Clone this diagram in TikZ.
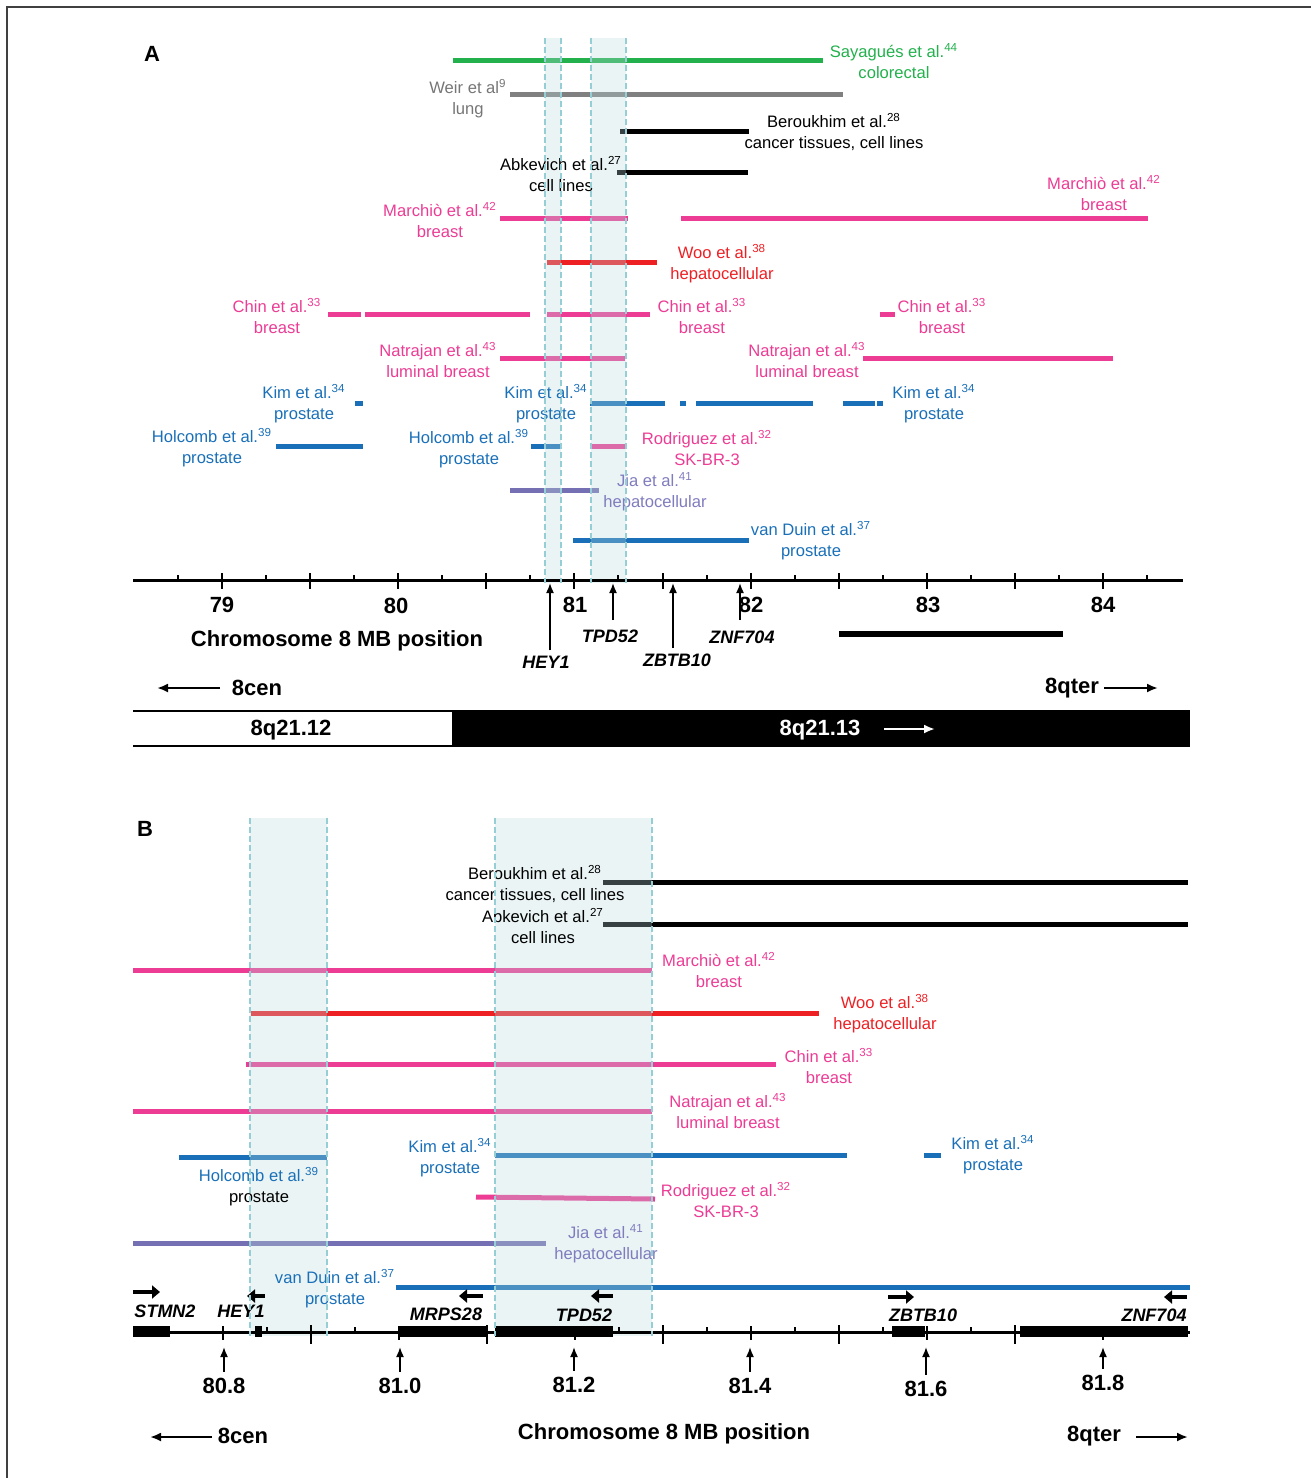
\documentclass[tikz,border=0pt]{standalone}
\usepackage{fontspec}
\setmainfont{Liberation Sans}
\usetikzlibrary{arrows.meta}
\definecolor{cgreen}{RGB}{34,177,76}
\definecolor{cgrey}{RGB}{128,128,128}
\definecolor{cgreytxt}{RGB}{118,118,118}
\definecolor{cpink}{RGB}{236,60,148}
\definecolor{cred}{RGB}{237,32,36}
\definecolor{cpurple}{RGB}{117,112,180}
\definecolor{cpurpletxt}{RGB}{128,124,190}
\definecolor{cblue}{RGB}{26,112,184}
\definecolor{cband}{RGB}{185,218,222}
\definecolor{cbandline}{RGB}{150,206,214}
\newcommand\rf[1]{\textsuperscript{#1}}
\tikzset{
 lab/.style={font=\fontsize{8.3}{10.6}\selectfont, align=center, inner sep=0pt},
 bar/.style={line width=2.5pt},
 axisline/.style={line width=1.5pt},
 tickline/.style={line width=1pt},
 num/.style={font=\fontsize{11}{13}\selectfont\bfseries, inner sep=0pt},
 gene/.style={font=\fontsize{9}{11}\selectfont\bfseries\itshape, inner sep=0pt},
 big/.style={font=\fontsize{11}{13}\selectfont\bfseries, inner sep=0pt},
 garrow/.style={line width=0.8pt, -{Latex[length=5pt,width=4pt]}},
 darrow/.style={line width=1.8pt, -{Triangle[length=4pt,width=6.5pt]}},
 carrow/.style={line width=1.1pt, -{Latex[length=5.5pt,width=4.5pt]}},
 band/.style={fill=cband, fill opacity=0.3, draw=none},
 bandedge/.style={draw=cbandline, line width=0.6pt, dash pattern=on 3pt off 1.5pt},
}
\begin{document}
\begin{tikzpicture}[x=0.5pt,y=-0.5pt]
\useasboundingbox (0,0) rectangle (1311,1478);
\draw[line width=0.8pt, black!75] (7,1478) -- (7,7) -- (1311,7);

% ================= bars, panel A =================
\draw[bar,cgreen] (453,60) -- (823,60);
\draw[bar,cgrey] (510,94) -- (843,94);
\draw[bar,black] (620,131) -- (749,131);
\draw[bar,black] (617,172) -- (748,172);
\draw[bar,cpink] (500,218) -- (628,218);
\draw[bar,cpink] (681,218) -- (1148,218);
\draw[bar,cred] (547,262) -- (657,262);
\draw[bar,cpink] (328,314) -- (361,314);
\draw[bar,cpink] (365,314) -- (530,314);
\draw[bar,cpink] (547,314) -- (650,314);
\draw[bar,cpink] (880,314) -- (895,314);
\draw[bar,cpink] (500,358) -- (625,358);
\draw[bar,cpink] (863,358) -- (1113,358);
\draw[bar,cblue] (355,403) -- (363,403);
\draw[bar,cblue] (590,403) -- (665,403);
\draw[bar,cblue] (680,403) -- (686,403);
\draw[bar,cblue] (696,403) -- (813,403);
\draw[bar,cblue] (843,403) -- (875,403);
\draw[bar,cblue] (877,403) -- (883,403);
\draw[bar,cblue] (276,446) -- (363,446);
\draw[bar,cblue] (531,446) -- (561,446);
\draw[bar,cpink] (590,446) -- (626,446);
\draw[bar,cpurple] (510,490) -- (599,490);
\draw[bar,cblue] (573,540) -- (749,540);

% ================= bars, panel B =================
\draw[bar,black] (603,882) -- (1188,882);
\draw[bar,black] (603,924) -- (1188,924);
\draw[bar,cpink] (133,970) -- (652,970);
\draw[bar,cred] (251,1013) -- (819,1013);
\draw[bar,cpink] (246,1064) -- (776,1064);
\draw[bar,cpink] (133,1111) -- (652,1111);
\draw[bar,cblue] (179,1157) -- (327,1157);
\draw[bar,cblue] (495,1155) -- (847,1155);
\draw[bar,cblue] (924,1155) -- (941,1155);
\draw[bar,cpink] (476,1197) -- (655,1199);
\draw[bar,cpurple] (133,1243) -- (546,1243);
\draw[bar,cblue] (396,1287) -- (1190,1287);

% ================= band fills =================
\fill[band] (545,38) rectangle (561,583);
\fill[band] (591,38) rectangle (626,583);
\fill[band] (250,818) rectangle (327,1336);
\fill[band] (495,818) rectangle (652,1336);

% ================= Panel A texts and axis =================
\node[big] (labA) at (152,54) {A};
\node[lab,text=cgreen] (sayA) at (894,61) {Sayagués et al.\rf{44}\\colorectal};
\node[lab,text=cgreytxt] (weirA) at (468,99) {Weir et al\rf{9}\\lung};
\node[lab] (berA) at (834,132) {Beroukhim et al.\rf{28}\\cancer tissues, cell lines};
\node[lab] (abkA) at (561,174) {Abkevich et al.\rf{27}\\cell lines};
\node[lab,text=cpink] (marA1) at (440,220) {Marchiò et al.\rf{42}\\breast};
\node[lab,text=cpink] (marA2) at (1104,193) {Marchiò et al.\rf{42}\\breast};
\node[lab,text=cred] (wooA) at (722,264) {Woo et al.\rf{38}\\hepatocellular};
\node[lab,text=cpink] (chinA1) at (277,316) {Chin et al.\rf{33}\\breast};
\node[lab,text=cpink] (chinA2) at (702,316) {Chin et al.\rf{33}\\breast};
\node[lab,text=cpink] (chinA3) at (942,316) {Chin et al.\rf{33}\\breast};
\node[lab,text=cpink] (natA1) at (438,360) {Natrajan et al.\rf{43}\\luminal breast};
\node[lab,text=cpink] (natA2) at (807,360) {Natrajan et al.\rf{43}\\luminal breast};
\node[lab,text=cblue] (kimA1) at (304,404) {Kim et al.\rf{34}\\prostate};
\node[lab,text=cblue] (kimA2) at (546,404) {Kim et al.\rf{34}\\prostate};
\node[lab,text=cblue] (kimA3) at (934,404) {Kim et al.\rf{34}\\prostate};
\node[lab,text=cblue] (holA1) at (212,448) {Holcomb et al.\rf{39}\\prostate};
\node[lab,text=cblue] (holA2) at (469,449) {Holcomb et al.\rf{39}\\prostate};
\node[lab,text=cpink] (rodA) at (707,448) {Rodriguez et al.\rf{32}\\SK-BR-3};
\node[lab,text=cpurpletxt] (jiaA) at (655,492) {Jia et al.\rf{41}\\hepatocellular};
\node[lab,text=cblue] (vdA) at (811,541) {van Duin et al.\rf{37}\\prostate};

\draw[axisline] (133,580) -- (1183,580);
\foreach \i in {-1,...,21} {
  \pgfmathsetmacro\xx{222+\i*44.05}
  \ifodd\i
    \draw[tickline] (\xx,575) -- (\xx,580);
  \else
    \draw[tickline] (\xx,573) -- (\xx,589);
  \fi
}
\node[num] (n79) at (222,605) {79};
\node[num] (n80) at (396,606) {80};
\node[num] (n81) at (575,605) {81};
\node[num] (n82) at (751,605) {82};
\node[num] (n83) at (928,605) {83};
\node[num] (n84) at (1103,605) {84};

\node[big] (chrA) at (337,641) {Chromosome 8 MB position};

\coordinate (hey1At) at (550,583);
\coordinate (tpdAt) at (613,583);
\coordinate (zbtAt) at (673,583);
\coordinate (znfAt) at (740,583);
\node[gene] (hey1A) at (546,662) {HEY1};
\node[gene] (tpdA) at (610,636) {TPD52};
\node[gene] (zbtA) at (677,660) {ZBTB10};
\node[gene] (znfA) at (742,637) {ZNF704};
\draw[garrow, shorten <=2.5pt] (hey1A.north -| hey1At) -- (hey1At);
\draw[garrow, shorten <=4.5pt] (tpdA.north -| tpdAt) -- (tpdAt);
\draw[garrow, shorten <=2.5pt] (zbtA.north -| zbtAt) -- (zbtAt);
\draw[garrow, shorten <=5pt] (znfA.north -| znfAt) -- (znfAt);

\draw[line width=3pt] (839,634) -- (1063,634);

\node[big] (cenA) at (257,688) {8cen};
\node[big] (qterA) at (1072,688) {8qter};
\coordinate (cenAe) at (157,688);
\coordinate (qterAe) at (1158,688);
\draw[carrow] (220,688) -- (cenAe);
\draw[carrow] (1104,688) -- (qterAe);

\draw[line width=1.2pt] (133,711) -- (452,711);
\draw[line width=1.2pt] (133,746) -- (452,746);
\fill (452,710) rectangle (1190,747);
\node[big] (b1) at (291,730) {8q21.12};
\node[big,text=white] (b2) at (820,730) {8q21.13};
\coordinate (b2e) at (935,729);
\draw[carrow, white] (884,729) -- (b2e);

% ================= Panel B texts and axis =================
\node[big] (labB) at (145,829) {B};
\node[lab] (berB) at (535,884) {Beroukhim et al.\rf{28}\\cancer tissues, cell lines};
\node[lab] (abkB) at (543,926) {Abkevich et al.\rf{27}\\cell lines};
\node[lab,text=cpink] (marB) at (719,970) {Marchiò et al.\rf{42}\\breast};
\node[lab,text=cred] (wooB) at (885,1014) {Woo et al.\rf{38}\\hepatocellular};
\node[lab,text=cpink] (chinB) at (829,1066) {Chin et al.\rf{33}\\breast};
\node[lab,text=cpink] (natB) at (728,1111) {Natrajan et al.\rf{43}\\luminal breast};
\node[lab] (holB) at (259,1187) {\textcolor{cblue}{Holcomb et al.\rf{39}}\\prostate};
\node[lab,text=cblue] (kimB1) at (450,1158) {Kim et al.\rf{34}\\prostate};
\node[lab,text=cblue] (kimB2) at (993,1155) {Kim et al.\rf{34}\\prostate};
\node[lab,text=cpink] (rodB) at (726,1200) {Rodriguez et al.\rf{32}\\SK-BR-3};
\node[lab,text=cpurpletxt] (jiaB) at (606,1244) {Jia et al.\rf{41}\\hepatocellular};
\node[lab,text=cblue] (vdB) at (335,1289) {van Duin et al.\rf{37}\\prostate};

\draw[axisline] (133,1332) -- (1190,1332);
\foreach \j in {0,...,21} {
  \pgfmathsetmacro\xx{222.6+\j*44}
  \pgfmathtruncatemacro\mm{mod(\j,4)}
  \ifnum\mm=2
    \draw[tickline] (\xx,1325) -- (\xx,1344);
  \else\ifnum\mm=0
    \draw[tickline] (\xx,1326) -- (\xx,1340);
  \else
    \draw[tickline] (\xx,1327) -- (\xx,1332);
  \fi\fi
}
% gene blocks
\fill (133,1326) rectangle (170,1337);
\fill (255,1326) rectangle (262,1337);
\fill (398,1326) rectangle (488,1337);
\fill (495,1326) rectangle (613,1337);
\fill (892,1326) rectangle (925,1337);
\fill (1020,1326) rectangle (1188,1337);

\node[gene] (stmn2) at (165,1311) {STMN2};
\node[gene] (hey1B) at (241,1311) {HEY1};
\node[gene] (mrps) at (446,1314) {MRPS28};
\node[gene] (tpdB) at (584,1315) {TPD52};
\node[gene] (zbtB) at (923,1315) {ZBTB10};
\node[gene] (znfB) at (1154,1315) {ZNF704};
\draw[darrow] (133,1292) -- (160,1292);
\draw[darrow] (265,1296) -- (247,1296);
\draw[darrow] (483,1296) -- (459,1296);
\draw[darrow] (613,1296) -- (591,1296);
\draw[darrow] (888,1297) -- (914,1297);
\draw[darrow] (1187,1297) -- (1164,1297);

\node[num] (p808) at (224,1386) {80.8};
\node[num] (p810) at (400,1386) {81.0};
\node[num] (p812) at (574,1385) {81.2};
\node[num] (p814) at (750,1386) {81.4};
\node[num] (p816) at (926,1389) {81.6};
\node[num] (p818) at (1103,1383) {81.8};
\foreach \p/\xx in {p808/224,p810/400,p812/574,p814/750,p816/926,p818/1103} {
  \coordinate (\p t) at (\xx,1347);
  \draw[garrow, shorten <=3pt] (\p.north) -- (\p t);
}

\node[big] (cenB) at (243,1436) {8cen};
\node[big] (chrB) at (664,1434) {Chromosome 8 MB position};
\node[big] (qterB) at (1094,1436) {8qter};
\coordinate (cenBe) at (150,1437);
\coordinate (qterBe) at (1188,1437);
\draw[carrow] (212,1437) -- (cenBe);
\draw[carrow] (1136,1437) -- (qterBe);

% ================= band edges =================
\draw[bandedge] (545,38) -- (545,583);
\draw[bandedge] (561,38) -- (561,583);
\draw[bandedge] (591,38) -- (591,583);
\draw[bandedge] (626,38) -- (626,583);
\draw[bandedge] (250,818) -- (250,1336);
\draw[bandedge] (327,818) -- (327,1336);
\draw[bandedge] (495,818) -- (495,1336);
\draw[bandedge] (652,818) -- (652,1336);
\end{tikzpicture}
\end{document}
